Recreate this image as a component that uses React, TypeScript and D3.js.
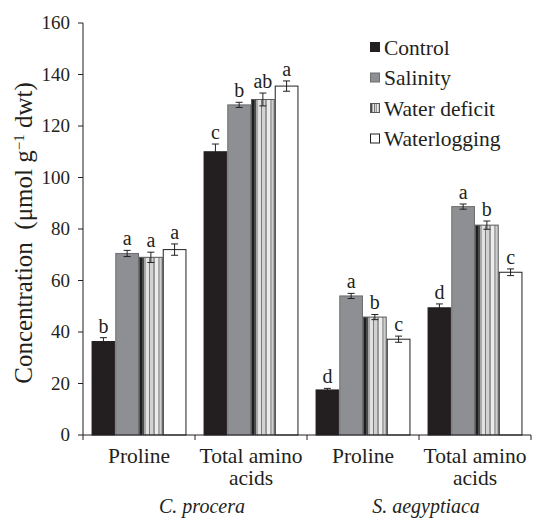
import * as d3 from "d3";

const treatments = ["Control", "Salinity", "Water deficit", "Waterlogging"];
const categories = ["Proline", "Total amino acids", "Proline", "Total amino acids"];
const species = ["C. procera", "S. aegyptiaca"];

// values per category, in treatment order
const means = [
  [36.3, 70.5, 69, 72],
  [110, 128.2, 130.3, 135.5],
  [17.5, 54, 45.8, 37.2],
  [49.4, 88.7, 81.5, 63.2],
];
const errors = [
  [1.5, 1.2, 2, 2.2],
  [3, 1, 2.5, 2],
  [0.6, 1, 1, 1.2],
  [1.5, 1, 1.6, 1.3],
];
const letters = [
  ["b", "a", "a", "a"],
  ["c", "b", "ab", "a"],
  ["d", "a", "b", "c"],
  ["d", "a", "b", "c"],
];
const yTicks = [0, 20, 40, 60, 80, 100, 120, 140, 160];

const W = 533;
const H = 519;
const margin = { top: 23, right: 2, bottom: 84, left: 83 };
const font = "Liberation Serif";

const fills = ["#231f20", "#8e8f92", "url(#wd)", "#ffffff"];
const strokes = ["#231f20", "#6d6e71", "#58595b", "#231f20"];

const wdStops: [number, number, string][] = [
  [0, 0.1, "#1e1e1e"],
  [0.1, 0.18, "#4a4a4a"],
  [0.18, 0.3, "#a8a8a8"],
  [0.3, 0.4, "#e2e2e2"],
  [0.4, 0.46, "#7a7a7a"],
  [0.46, 0.6, "#d2d2d2"],
  [0.6, 0.68, "#9a9a9a"],
  [0.68, 0.8, "#ececec"],
  [0.8, 0.88, "#aaaaaa"],
  [0.88, 1, "#cfcfcf"],
];

export default function App() {
  const x0 = d3
    .scaleBand<number>()
    .domain(d3.range(categories.length))
    .range([margin.left, W - margin.right]);
  const x1 = d3
    .scaleBand<number>()
    .domain(d3.range(treatments.length))
    .range([0, x0.bandwidth()])
    .paddingInner(0)
    .paddingOuter(0.36);
  const y = d3.scaleLinear().domain([0, 160]).range([H - margin.bottom, margin.top]);
  const y0 = y(0);
  const ink = "#231f20";

  return (
    <svg
      width={W}
      height={H}
      style={{ position: "absolute", left: 0, top: 0, background: "#fff", fontFamily: font }}
    >
      <defs>
        <linearGradient id="wd" x1="0" x2="1" y1="0" y2="0">
          {wdStops.flatMap(([a, b, c], i) => [
            <stop key={i + "a"} offset={a} stopColor={c} />,
            <stop key={i + "b"} offset={b} stopColor={c} />,
          ])}
        </linearGradient>
      </defs>

      {/* bars */}
      {means.map((row, ci) =>
        row.map((v, ti) => {
          const bx = x0(ci)! + x1(ti)!;
          const bw = x1.bandwidth();
          const cx = bx + bw / 2;
          const top = y(v + errors[ci][ti]);
          const bot = y(v - errors[ci][ti]);
          return (
            <g key={ci + "-" + ti}>
              <rect
                x={bx + 0.5}
                y={y(v)}
                width={bw - 1}
                height={y0 - y(v)}
                fill={fills[ti]}
                stroke={strokes[ti]}
                strokeWidth={1}
              />
              <line x1={cx} x2={cx} y1={top} y2={bot} stroke={ink} strokeWidth={1} />
              <line x1={cx - 3.5} x2={cx + 3.5} y1={top} y2={top} stroke={ink} strokeWidth={1} />
              <line x1={cx - 3.5} x2={cx + 3.5} y1={bot} y2={bot} stroke={ink} strokeWidth={1} />
              <text x={cx} y={top - 5} textAnchor="middle" fontSize={20} fill={ink}>
                {letters[ci][ti]}
              </text>
            </g>
          );
        })
      )}

      {/* y axis */}
      <line x1={margin.left} x2={margin.left} y1={margin.top} y2={y0} stroke={ink} />
      {yTicks.map((t) => (
        <g key={t}>
          <line x1={margin.left - 5} x2={margin.left} y1={y(t)} y2={y(t)} stroke={ink} />
          <text x={margin.left - 13} y={y(t)} dy="0.33em" textAnchor="end" fontSize={19} fill={ink}>
            {t}
          </text>
        </g>
      ))}

      {/* x axis */}
      <line x1={margin.left} x2={W - margin.right} y1={y0} y2={y0} stroke={ink} />
      {d3.range(categories.length + 1).map((i) => {
        const xx = i < categories.length ? x0(i)! : x0(categories.length - 1)! + x0.bandwidth();
        return <line key={i} x1={xx} x2={xx} y1={y0} y2={y0 + 5} stroke={ink} />;
      })}
      {categories.map((c, i) => {
        const cx = x0(i)! + x0.bandwidth() / 2;
        const parts = c === "Total amino acids" ? ["Total amino", "acids"] : [c];
        return (
          <text key={i} x={cx} y={y0 + 28} textAnchor="middle" fontSize={21.5} fill={ink}>
            {parts.map((p, k) => (
              <tspan key={k} x={cx} dy={k === 0 ? 0 : 22}>
                {p}
              </tspan>
            ))}
          </text>
        );
      })}
      {species.map((s, i) => {
        const cx = x0(i * 2)! + x0.bandwidth() + 7;
        return (
          <text
            key={s}
            x={cx}
            y={y0 + 78}
            textAnchor="middle"
            fontSize={20}
            fontStyle="italic"
            fill={ink}
          >
            {s}
          </text>
        );
      })}

      {/* y label */}
      <text
        transform={`translate(32,233) rotate(-90)`}
        textAnchor="middle"
        fontSize={25}
        fill={ink}
        style={{ whiteSpace: "pre" }}
      >
        {"Concentration  (μmol g"}
        <tspan baselineShift="super" fontSize={15}>
          −1
        </tspan>
        {" dwt)"}
      </text>

      {/* legend */}
      {treatments.map((t, i) => (
        <g key={t} transform={`translate(370,${47 + i * 30.5})`}>
          <rect
            x={0.5}
            y={-4.5}
            width={9}
            height={9}
            fill={fills[i]}
            stroke={strokes[i]}
            strokeWidth={1}
          />
          <text x={14} y={0} dy="0.35em" fontSize={21.5} fill={ink}>
            {t}
          </text>
        </g>
      ))}
    </svg>
  );
}
